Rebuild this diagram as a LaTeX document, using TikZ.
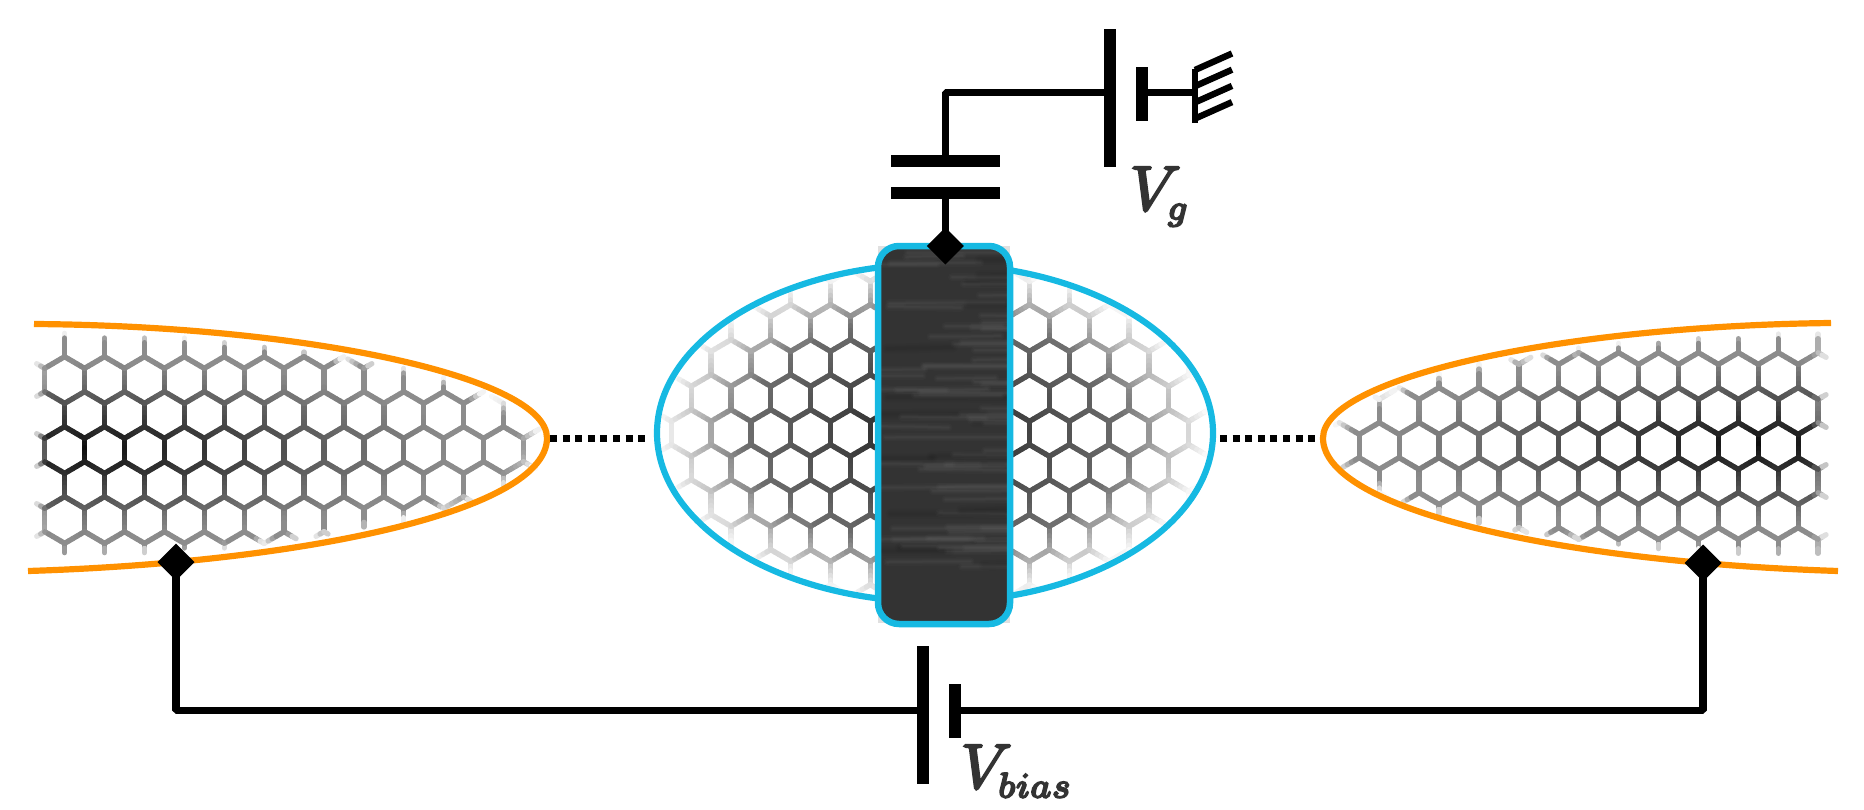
\documentclass[tikz,border=0pt]{standalone}
\usetikzlibrary{shapes.geometric}
\definecolor{leadorange}{HTML}{FF9100}
\definecolor{dotblue}{HTML}{16B9E2}
\definecolor{gatefill}{HTML}{333333}
\definecolor{labelgray}{HTML}{333333}
\newcommand\clampv[1]{\pgfmathparse{max(0,min(1,#1))}}
\newcommand\leftgray[2]{%
  \pgfmathsetmacro\dv{sqrt(((#1-34)/487)*((#1-34)/487)+((#2-445)/105)*((#2-445)/105))}%
  \clampv{(1.05-\dv)/0.05}\let\mv\pgfmathresult
  \clampv{(#1-36)/12}\let\ev\pgfmathresult
  \pgfmathsetmacro\rv{sqrt(((#1-84)/300)*((#1-84)/300)+((#2-450)/70)*((#2-450)/70))}%
  \pgfmathsetmacro\gv{1-(1-min(0.55,0.05+0.4*\rv))*\mv*\ev}}
\newcommand\rightgray[2]{%
  \pgfmathsetmacro\dv{sqrt(((1830-#1)/480)*((1830-#1)/480)+((#2-445)/105)*((#2-445)/105))}%
  \clampv{(1.05-\dv)/0.05}\let\mv\pgfmathresult
  \clampv{(1828-#1)/14}\let\ev\pgfmathresult
  \pgfmathsetmacro\rv{sqrt(((#1-1758)/300)*((#1-1758)/300)+((#2-445)/70)*((#2-445)/70))}%
  \pgfmathsetmacro\gv{1-(1-min(0.55,0.05+0.4*\rv))*\mv*\ev}}
\newcommand\midgray[2]{%
  \pgfmathsetmacro\dv{sqrt(((#1-935)/270)*((#1-935)/270)+((#2-433)/165)*((#2-433)/165))}%
  \pgfmathsetmacro\gv{min(1,\dv<0.7?0.1+0.47*\dv:0.43+1.73*(\dv-0.7))}%
  \pgfmathsetmacro\gv{((#1>886)&&(#1<1002))?1:\gv}}
\newcommand\latseg[5]{% function, x1,y1,x2,y2
  \foreach \tv in {0,1,2,3,4}{%
    \pgfmathsetmacro\xa{#2+(#4-#2)*\tv/5}%
    \pgfmathsetmacro\ya{#3+(#5-#3)*\tv/5}%
    \pgfmathsetmacro\xb{#2+(#4-#2)*(\tv+1)/5}%
    \pgfmathsetmacro\yb{#3+(#5-#3)*(\tv+1)/5}%
    \pgfmathsetmacro\xm{(\xa+\xb)/2}%
    \pgfmathsetmacro\ym{(\ya+\yb)/2}%
    #1{\xm}{\ym}%
    \ifdim\gv pt<0.985pt
      \definecolor{latc}{gray}{\gv}%
      \draw[latline,color=latc] (\xa,\ya)--(\xb,\yb);%
    \fi}}
\newcommand\hexcell[3]{% function, centre x, y
  \pgfmathsetmacro\hxl{#2-19.95}\pgfmathsetmacro\hxr{#2+19.95}%
  \pgfmathsetmacro\hyu{#3-11.67}\pgfmathsetmacro\hyd{#3+11.67}\pgfmathsetmacro\hyt{#3-23.33}%
  \latseg#1{\hxl}{\hyu}{\hxl}{\hyd}%
  \latseg#1{\hxl}{\hyu}{#2}{\hyt}%
  \latseg#1{#2}{\hyt}{\hxr}{\hyu}}
\newcommand\subtxt[1]{\mathchoice{}{}{\scalebox{.8}{$\scriptstyle #1$}}{}}
\newcommand\heavy[1]{\special{pdf:code 2 Tr 0.38 w}#1\special{pdf:code 0 Tr}}
\tikzset{
  latline/.style={line width=5.3pt,line cap=round},
  wire/.style={line width=7.2pt,black,line join=bevel},
  plate/.style={rectangle,fill=black,inner sep=0pt,outer sep=0pt},
  contact/.style={diamond,fill=black,inner sep=0pt,outer sep=0pt,minimum width=37pt,minimum height=37pt},
  leadline/.style={line width=6.2pt,leadorange},
  dotline/.style={line width=7pt,black,dash pattern=on 7pt off 5.6pt},
  vlabel/.style={anchor=base west,inner sep=0pt,text=labelgray},
}
\begin{document}
\begin{tikzpicture}[x=1pt,y=-1pt]
\useasboundingbox (0,0) rectangle (1864,809);
% left lattice
\foreach \rr in {0,...,6}{
  \pgfmathsetmacro\cy{345+35*\rr}
  \pgfmathtruncatemacro\odd{mod(\rr,2)}
  \foreach \cc in {0,...,13}{
    \pgfmathsetmacro\cx{\cc*39.9+(\odd==1?24.7:44.7)}
    \hexcell{\leftgray}{\cx}{\cy}
  }}
% right lattice
\foreach \rr in {0,...,6}{
  \pgfmathsetmacro\cy{341+35*\rr}
  \pgfmathtruncatemacro\odd{mod(\rr,2)}
  \foreach \cc in {0,...,13}{
    \pgfmathsetmacro\cx{1858-\cc*39.9-(\odd==1?0:20)}
    \hexcell{\rightgray}{\cx}{\cy}
  }}
% central lattice
\foreach \rr in {-5,...,5}{
  \pgfmathsetmacro\cy{433+35*\rr}
  \pgfmathtruncatemacro\odd{mod(abs(\rr),2)}
  \foreach \cc in {-2,...,12}{
    \pgfmathsetmacro\cx{731+39.8*\cc-(\odd==1?19.9:0)}
    \hexcell{\midgray}{\cx}{\cy}
  }}
% lead outlines
\draw[leadline] (34,324) .. controls (310,326) and (547,378) .. (547,438) .. controls (547,510) and (310,562) .. (28,571);
\draw[leadline] (1831,323) .. controls (1560,326) and (1323,378) .. (1323,438) .. controls (1323,510) and (1560,562) .. (1838,571);
% quantum dot
\node[ellipse,draw=dotblue,line width=6.2pt,inner sep=0pt,outer sep=0pt,minimum width=556pt,minimum height=338pt] (dot) at (935,433) {};
% gate
\node[rectangle,fill=black!12,inner sep=0pt,outer sep=0pt,minimum width=132pt,minimum height=377pt] (gatebg) at (944,434.5) {};
\begin{scope}
  \clip[rounded corners=21pt] (878,246) rectangle (1010,624);
  \fill[gatefill] (878,246) rectangle (1010,624);
  \pgfmathsetseed{4711}
  \foreach \sn in {1,...,80}{
    \pgfmathsetmacro\sx{858+rnd*130}
    \pgfmathsetmacro\sy{252+rnd*320}
    \pgfmathsetmacro\slen{50+rnd*90}
    \pgfmathsetmacro\stilt{(rnd-0.5)*3}
    \pgfmathtruncatemacro\dk{rnd<0.3?1:0}
    \ifnum\dk=1
      \foreach \wd in {3,6,10}{\draw[black,opacity=0.03,line width=\wd pt,line cap=round] (\sx,\sy)--++(\slen,\stilt);}
    \else
      \foreach \wd in {1.5,3,5,8}{\draw[white,opacity=0.014,line width=\wd pt,line cap=round] (\sx,\sy)--++(\slen,\stilt);}
    \fi
  }
\end{scope}
\node[rectangle,draw=dotblue,line width=6.5pt,rounded corners=21pt,inner sep=0pt,outer sep=0pt,minimum width=132pt,minimum height=378pt] (gate) at (944,435) {};
% dotted links
\coordinate (la) at (550,438.3);
\coordinate (lb) at (645,438.3);
\coordinate (ra) at (1220,438.3);
\coordinate (rb) at (1317,438.3);
\draw[dotline] (la) -- (lb);
\draw[dotline] (ra) -- (rb);
% top circuit
\node[contact] (dg) at (945.3,246) {};
\node[plate,minimum width=109pt,minimum height=12pt] (capb) at (945.3,193) {};
\node[plate,minimum width=109pt,minimum height=12pt] (capt) at (945.3,161) {};
\node[plate,minimum width=12pt,minimum height=138pt] (gbig) at (1110,98) {};
\node[plate,minimum width=12pt,minimum height=54pt] (gsmall) at (1142,94) {};
\node[plate,minimum width=6.8pt,minimum height=54pt] (gnd) at (1195,96) {};
\coordinate (gw) at (945.3,92.7);
\draw[wire] (dg.center) -- (capb.center);
\draw[wire] (capt.center) -- (gw) -- (gw -| gbig.center);
\draw[wire] (gsmall.center |- gw) -- (gnd.center |- gw);
\foreach \kk in {0,1,2,3}{
  \pgfmathsetmacro\ya{70+16.2*\kk}
  \pgfmathsetmacro\yb{53.5+16.2*\kk}
  \coordinate (ts) at (1195,\ya);
  \coordinate (te) at (1232,\yb);
  \draw[line width=6.4pt,black] (ts) -- (te);
}
\node[vlabel] (vg) at (1130,210) {\scalebox{6.3}{\heavy{$V_{\subtxt{g}}$}}};
% bottom circuit
\node[contact] (cl) at (176,562) {};
\node[contact] (cr) at (1703,563) {};
\node[plate,minimum width=12pt,minimum height=138pt] (bbig) at (923,715) {};
\node[plate,minimum width=12pt,minimum height=54pt] (bsmall) at (955,711) {};
\coordinate (bl) at (176,710.3);
\coordinate (br) at (1703,710.3);
\draw[wire] (cl.center) -- (bl) -- (bbig.center |- bl);
\draw[wire] (cr.center) -- (br) -- (bsmall.center |- br);
\node[vlabel] (vb) at (961,788) {\scalebox{6.3}{\heavy{$V_{\subtxt{bias}}$}}};
\end{tikzpicture}
\end{document}
